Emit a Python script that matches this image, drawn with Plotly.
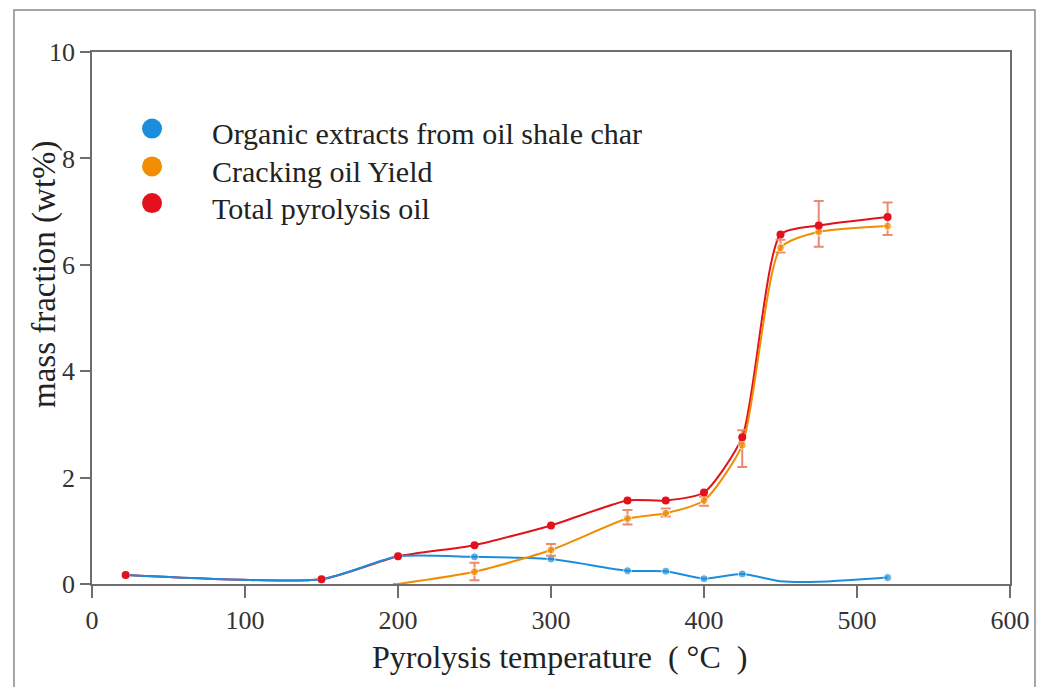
import plotly.graph_objects as go

# Pyrolysis temperature (°C) and mass fractions (wt%)
temp_extract = [22, 150, 200, 250, 300, 350, 375, 400, 425, 450, 475, 520]
extract_wt = [0.17, 0.09, 0.52, 0.51, 0.47, 0.25, 0.24, 0.10, 0.19, 0.05, 0.04, 0.12]
extract_marker = [8, 8, 8, 8, 8, 8, 8, 8, 8, 0, 0, 8]

temp_crack = [200, 250, 300, 350, 375, 400, 425, 450, 475, 520]
crack_wt = [0.0, 0.23, 0.64, 1.23, 1.33, 1.57, 2.61, 6.32, 6.62, 6.73]
crack_err_plus = [None, 0.17, 0.11, 0.16, 0.09, 0.07, 0.28, 0.15, 0.58, 0.44]
crack_err_minus = [None, 0.16, 0.11, 0.11, 0.06, 0.10, 0.41, 0.09, 0.28, 0.17]
crack_marker = [0, 8, 8, 8, 8, 8, 8, 8, 8, 8]

temp_total = [22, 150, 200, 250, 300, 350, 375, 400, 425, 450, 475, 520]
total_wt = [0.17, 0.09, 0.52, 0.73, 1.10, 1.57, 1.57, 1.72, 2.76, 6.57, 6.74, 6.90]

series_names = ["Organic extracts from oil shale char", "Cracking oil Yield", "Total pyrolysis oil"]
series_colors = ["#1a8ddc", "#f28c00", "#e3111c"]

x_ticks = [0, 100, 200, 300, 400, 500, 600]
y_ticks = [0, 2, 4, 6, 8, 10]

x_title = "Pyrolysis temperature\u00a0\u00a0( \u00b0C\u00a0 )"
y_title = "mass fraction (wt%)"

FONT = "Liberation Serif, Times New Roman, serif"
AXIS_GREY = "#6e6e6e"
SMOOTH = 0.6

fig = go.Figure()

# total oil curve (line only, markers added last so they sit on top)
fig.add_trace(go.Scatter(
    x=temp_total, y=total_wt, mode="lines",
    line=dict(color=series_colors[2], width=2, shape="spline", smoothing=SMOOTH),
    showlegend=False, hoverinfo="skip",
))

# organic extracts from char
fig.add_trace(go.Scatter(
    x=temp_extract, y=extract_wt, mode="lines+markers", name=series_names[0],
    line=dict(color=series_colors[0], width=2, shape="spline", smoothing=SMOOTH),
    marker=dict(color=series_colors[0], size=extract_marker),
    showlegend=False,
))

# cracking oil yield with error bars
fig.add_trace(go.Scatter(
    x=temp_crack, y=crack_wt, mode="lines+markers", name=series_names[1],
    line=dict(color=series_colors[1], width=2, shape="spline", smoothing=SMOOTH),
    marker=dict(color=series_colors[1], size=crack_marker),
    error_y=dict(type="data", symmetric=False, array=crack_err_plus,
                 arrayminus=crack_err_minus, color="#ec8a6c", thickness=2, width=5),
    showlegend=False,
))

# total oil points
fig.add_trace(go.Scatter(
    x=temp_total, y=total_wt, mode="markers", name=series_names[2],
    marker=dict(color=series_colors[2], size=8),
    showlegend=False,
))

# key in the upper-left of the plot area
legend_x_marker = 0.0654
legend_x_text = 0.129
legend_y = [0.856, 0.785, 0.716]
shapes = []
annotations = []
for name, color, ly in zip(series_names, series_colors, legend_y):
    shapes.append(dict(
        type="circle", xref="paper", yref="paper",
        xsizemode="pixel", ysizemode="pixel",
        xanchor=legend_x_marker, yanchor=ly,
        x0=-10, x1=10, y0=-10, y1=10,
        fillcolor=color, line=dict(width=0),
    ))
    annotations.append(dict(
        xref="paper", yref="paper", x=legend_x_text, y=ly - 0.01,
        xanchor="left", yanchor="middle", showarrow=False,
        text=name, font=dict(family=FONT, size=30, color="#222222"),
    ))

# axis titles
annotations.append(dict(
    xref="paper", yref="paper", x=0.509, y=-0.138,
    xanchor="center", yanchor="middle", showarrow=False,
    text=x_title, font=dict(family=FONT, size=32, color="#222222"),
))
annotations.append(dict(
    xref="paper", yref="paper", x=-0.051, y=0.583,
    xanchor="center", yanchor="middle", showarrow=False, textangle=-90,
    text=y_title, font=dict(family=FONT, size=33, color="#222222"),
))

# outer frame around the figure
shapes.append(dict(
    type="rect", xref="paper", yref="paper",
    x0=-0.085, x1=1.0272, y0=-0.4, y1=1.079,
    line=dict(color="#8a8a8a", width=1.5), fillcolor="rgba(0,0,0,0)", layer="below",
))

fig.update_layout(
    width=1045, height=687,
    margin=dict(l=92, r=35, t=52, b=103),
    paper_bgcolor="white", plot_bgcolor="white",
    font=dict(family=FONT, color="#222222"),
    shapes=shapes, annotations=annotations,
    xaxis=dict(
        range=[0, 600], tickvals=x_ticks, ticktext=[str(v) for v in x_ticks],
        showline=True, linecolor=AXIS_GREY, linewidth=1.5, mirror=True,
        ticks="outside", ticklen=12, tickwidth=1.5, tickcolor=AXIS_GREY,
        showgrid=False, zeroline=False,
        tickfont=dict(family=FONT, size=26, color="#333333"),
    ),
    yaxis=dict(
        range=[0, 10], tickvals=y_ticks, ticktext=[str(v) for v in y_ticks],
        showline=True, linecolor=AXIS_GREY, linewidth=1.5, mirror=True,
        ticks="outside", ticklen=10, tickwidth=1.5, tickcolor=AXIS_GREY,
        showgrid=False, zeroline=False,
        tickfont=dict(family=FONT, size=26, color="#333333"),
    ),
)

fig.write_html("out.html")
